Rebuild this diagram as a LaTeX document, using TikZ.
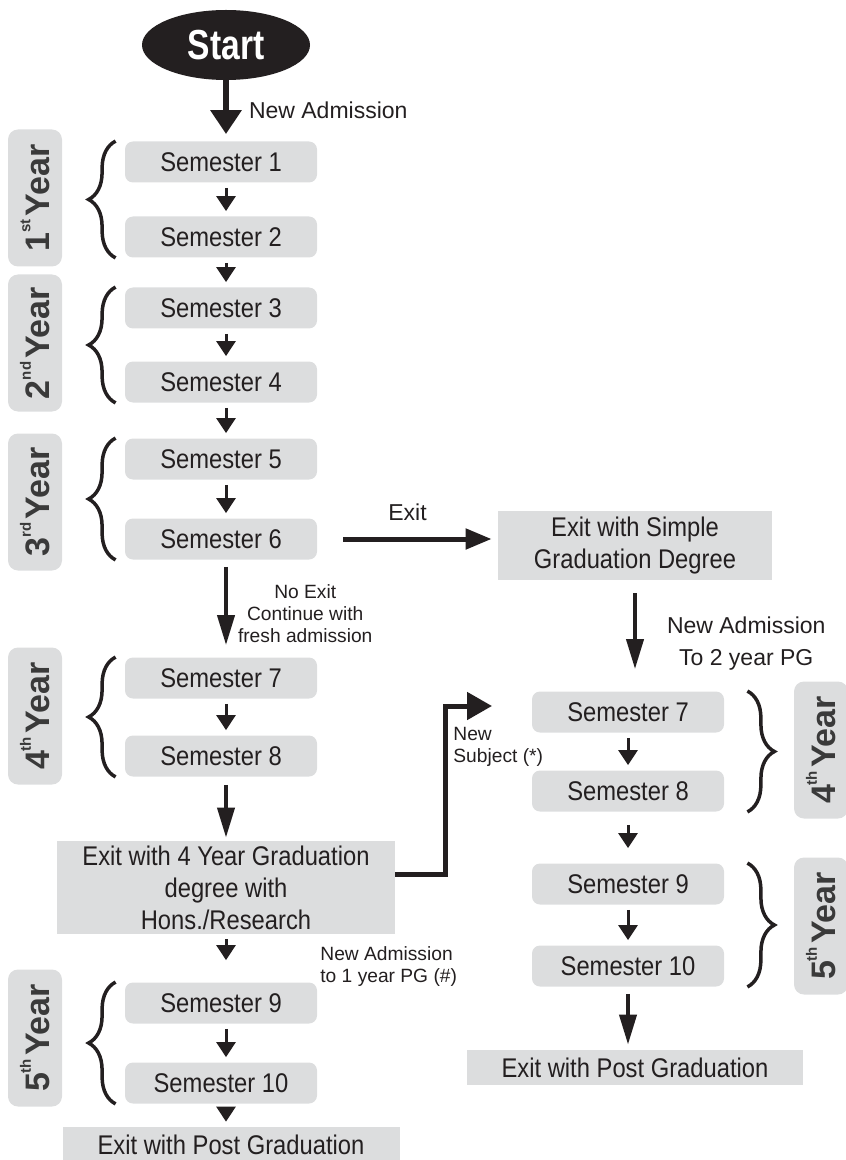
\documentclass[tikz,border=0pt]{standalone}
\usepackage{fontspec}
\usepackage{xcolor}
\usetikzlibrary{arrows.meta,shapes.geometric,decorations.pathreplacing}
\setmainfont{Liberation Sans}
\newfontfamily\boxfont[FakeStretch=0.88]{Liberation Sans}
\newfontfamily\startfont[FakeStretch=0.8]{Liberation Sans}
\definecolor{boxgray}{HTML}{DCDDDE}
\definecolor{inkdark}{HTML}{231F20}
\definecolor{yeargray}{HTML}{3A3A3A}
\newcommand{\yearsup}[1]{\raisebox{0.55em}{\fontsize{7.5}{8}\selectfont #1}\kern1.5pt}

\begin{document}
\begin{tikzpicture}[x=0.5pt, y=-0.5pt,
  sembox/.style={fill=boxgray, rounded corners=4pt, minimum width=96pt, minimum height=20.5pt, inner sep=0pt, text=inkdark, font=\boxfont\fontsize{13.5}{16}\selectfont},
  exitbox/.style={fill=boxgray, inner sep=0pt, text=inkdark, align=center, font=\boxfont\fontsize{13.5}{16}\selectfont},
  yearlbl/.style={fill=boxgray, rounded corners=5pt, rotate=90, minimum width=68.5pt, minimum height=27pt, inner sep=0pt, text=yeargray, font=\fontsize{17}{18}\selectfont\bfseries},
  lbl/.style={inner sep=1pt, text=inkdark, align=center, font=\fontsize{11.5}{16}\selectfont},
  smalllbl/.style={inner sep=1pt, text=inkdark, font=\fontsize{9.6}{11}\selectfont},
  bigarrow/.style={draw=inkdark, line width=2.5pt, -{Triangle[length=13pt,width=10pt]}},
  longarrow/.style={draw=inkdark, line width=2pt, -{Triangle[length=15pt,width=8.5pt]}},
  smallarrow/.style={draw=inkdark, line width=1.5pt, -{Triangle[length=7.5pt,width=9.5pt]}, shorten <=2.5pt, shorten >=2.5pt},
  lbrace/.style={draw=inkdark, line width=1.75pt, decorate, decoration={brace, amplitude=13.5pt}},
  rbrace/.style={draw=inkdark, line width=1.75pt, decorate, decoration={brace, amplitude=13.5pt}},
]
\useasboundingbox (0,0) rectangle (845,1160);

\node[ellipse, fill=inkdark, minimum width=84pt, minimum height=35pt, inner sep=0pt, text=white,
  font=\startfont\fontsize{21}{24}\selectfont\bfseries] (start) at (226,45) {Start};

\foreach \n/\y in {1/162,2/237,3/308,4/382,5/459,6/539,7/678,8/756,9/1003,10/1083}
  \node[sembox] (s\n) at (221,\y) {Semester \n};
\foreach \n/\y in {7/712,8/791,9/884,10/966}
  \node[sembox] (r\n) at (628,\y) {Semester \n};

\node[exitbox, minimum width=169pt, minimum height=46.5pt] (e4) at (226,887.5) {Exit with 4 Year Graduation\\degree with\\Hons./Research};
\node[exitbox, minimum width=168.5pt, minimum height=18pt] (epl) at (231,1145) {Exit with Post Graduation};
\node[exitbox, minimum width=137pt, minimum height=34.5pt] (simple) at (635,545.5) {Exit with Simple\\Graduation Degree};
\node[exitbox, minimum width=168pt, minimum height=17.5pt] (epr) at (635,1067.5) {Exit with Post Graduation};

\foreach \n/\s/\y in {1/st/198,2/nd/343,3/rd/502,4/th/716,5/th/1038}
  \node[yearlbl] (ly\n) at (35,\y) {\n\yearsup{\s}Year};
\foreach \n/\y in {4/750,5/926}
  \node[yearlbl] (ry\n) at (821,\y) {\n\yearsup{th}Year};

\foreach \a/\b in {1/2,3/4,5/6,7/8,9/10}
  \draw[lbrace] ([xshift=-4.5pt]s\b.south west) -- ([xshift=-4.5pt]s\a.north west);
\foreach \a/\b in {7/8,9/10}
  \draw[rbrace] ([xshift=11.5pt]r\a.north east) -- ([xshift=11.5pt]r\b.south east);

\draw[bigarrow, line width=3pt, -{Triangle[length=12pt,width=15pt]}, shorten >=3.5pt] (start) -- (start |- s1.north)
  node[lbl, midway, right=9pt] (adm) {New Admission};

\foreach \a/\b in {s1/s2,s2/s3,s3/s4,s4/s5,s5/s6,s7/s8,s9/s10,s10/epl}
  \draw[smallarrow] (\a.south -| start) -- (\b.north -| start);
\draw[smallarrow, shorten >=11pt] (e4.south -| start) -- (s9.north -| start);
\node[smalllbl, align=left, anchor=north west] (pgone) at (318,944) {New Admission\\to 1 year PG (\#)};

\draw[longarrow, shorten <=3.5pt, shorten >=6pt] (s6.south -| start) -- (s7.north -| start)
  node[smalllbl, align=center, pos=0.55, right=4pt] (noexit) {No Exit\\Continue with\\fresh admission};
\draw[longarrow, shorten <=4pt, shorten >=1.5pt] (s8.south -| start) -- (e4.north -| start);

\draw[bigarrow, shorten <=13pt, shorten >=3pt] (s6) -- (s6 -| simple.west)
  node[lbl, midway, above=7pt] (exitlbl) {Exit};
\draw[longarrow, shorten <=6.5pt, shorten >=11pt] (simple.south) -- (simple.south |- r7.north)
  node[lbl, pos=0.57, right=14pt] (pgtwo) {New Admission\\To 2 year PG};

\draw[smallarrow] (r7) -- (r8);
\draw[smallarrow, shorten <=6.5pt, shorten >=7.5pt] (r8) -- (r9);
\draw[smallarrow] (r9) -- (r10);
\draw[longarrow, shorten <=3.5pt, shorten >=2.5pt] (r10) -- (r10 |- epr.north);

\coordinate (subj) at (492,706);
\draw[bigarrow, -{Triangle[length=12.5pt,width=13.5pt]}] ([yshift=6.5pt]e4.east) -| ([xshift=-23.5pt]subj) -- (subj);
\node[smalllbl, align=left, anchor=north west] (subjlbl) at (451,725) {New\\Subject (*)};
\end{tikzpicture}
\end{document}
